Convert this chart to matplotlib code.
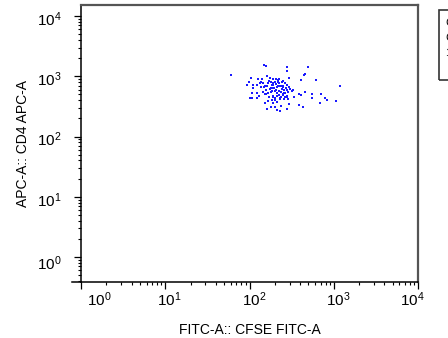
import numpy as np
import matplotlib
matplotlib.use("Agg")
import matplotlib.pyplot as plt
from matplotlib.patches import Rectangle
from matplotlib.lines import Line2D
from matplotlib.transforms import ScaledTranslation
from matplotlib.ticker import FixedLocator, LogLocator, NullFormatter

plt.rcParams["font.family"] = ["Liberation Sans", "DejaVu Sans"]
plt.rcParams["mathtext.fontset"] = "custom"
plt.rcParams["mathtext.rm"] = "Liberation Sans"
plt.rcParams["mathtext.default"] = "regular"

# events (CFSE on x, CD4 on y)
cfse = [60.3, 148.6, 155.6, 276.6, 277, 490.6, 455.8, 439.8, 610.9, 408.4,
        1186, 296.6, 104.2, 92.7, 98.6, 110.9, 121.7, 127.2, 108.0, 101.4,
        108, 123.8, 165.9, 154.1, 188.5, 210.4, 178.5, 160.0, 200.8, 213.8,
        230.2, 238.5, 277, 297, 383.6, 428, 286.4, 337.4, 387, 405,
        456, 547, 547, 700, 687, 794, 824, 1055, 325.6, 160,
        175, 191.8, 206.4, 222, 180, 166, 154, 135.8, 133.3, 149.9,
        192, 206, 178.5, 192, 214, 241, 252, 266, 281, 230,
        202, 222, 238, 257, 181.5, 166, 154, 169, 192, 214,
        248, 281, 297, 317, 281, 230, 201, 185, 238, 266,
        157, 175, 143.5, 130.7, 124, 111, 140.7, 185, 252, 218,
        145, 170, 188, 197, 205, 215, 226, 236, 244, 258,
        270, 183, 176, 162, 212, 224, 248, 266, 290, 305,
        138, 156, 190, 203, 232, 258, 275, 218, 199, 250]
cd4 = [1061, 1537, 1480, 1408, 1236, 1408, 1089, 1037, 857, 857,
       697, 925, 925, 724, 803, 716, 716, 890, 521, 441,
       441, 441, 393, 360, 364, 378, 309, 283, 312.6, 275,
       262, 317, 283, 346, 333, 305, 424, 448, 501, 483,
       542, 501, 431, 501, 364, 431, 403, 388, 591, 1010,
       935, 911, 911, 890, 803, 764, 689, 812, 764, 671,
       764, 743, 646, 631, 656, 812, 844, 764, 716, 689,
       562, 562, 548, 533, 548, 533, 508, 458, 458, 470,
       508, 591, 671, 576, 448, 414, 403, 403, 458, 458,
       591, 607, 554, 470, 533, 631, 890, 707, 671, 803,
       760, 830, 720, 650, 600, 680, 760, 700, 620, 590,
       640, 560, 610, 700, 520, 490, 480, 520, 540, 610,
       660, 500, 470, 430, 440, 420, 470, 860, 790, 700]

decades = [1, 10, 100, 1000, 10000]
exponents = [0, 1, 2, 3, 4]
legend_lines = ["C", "C", "1"]

fig = plt.figure(figsize=(4.48, 3.38), dpi=100)
ax = fig.add_axes([81 / 448, 1 - 282 / 338, 337 / 448, 277 / 338])

ax.scatter(cfse, cd4, s=1.8, marker="s", color="#1a1aff", linewidths=0)

ax.set_xscale("log")
ax.set_yscale("log")
ax.set_xlim(1, 10000)
ax.set_ylim(0.385, 15230)

for a in (ax.xaxis, ax.yaxis):
    a.set_major_locator(FixedLocator(decades))
    a.set_minor_locator(LogLocator(base=10, subs=np.arange(2, 10)))
    a.set_minor_formatter(NullFormatter())

ax.set_xticklabels([f"$10^{{{e}}}$" for e in exponents], fontsize=11)
ax.set_yticklabels([f"$10^{{{e}}}$" for e in exponents], fontsize=11)

ax.tick_params(which="major", length=5, width=0.9, color="black")
ax.tick_params(which="minor", length=2.5, width=0.8, color="black")
ax.tick_params(axis="x", which="major", pad=1)
ax.tick_params(axis="y", which="major", pad=9)

# nudge tick labels the way the cytometry software does
x_shift = [18, 3.5, 4.5, 4.5, -5.5]
for lab, dx in zip(ax.get_xticklabels(), x_shift):
    lab.set_transform(lab.get_transform() + ScaledTranslation(dx / 100, 0, fig.dpi_scale_trans))
y_shift = [-5, -2, -2, -2, -2]
for lab, dy in zip(ax.get_yticklabels(), y_shift):
    lab.set_transform(lab.get_transform() + ScaledTranslation(0, dy / 100, fig.dpi_scale_trans))

for side in ("left", "bottom"):
    ax.spines[side].set_color("black")
    ax.spines[side].set_linewidth(1.1)
for side in ("top", "right"):
    ax.spines[side].set_color("#555555")
    ax.spines[side].set_linewidth(1.6)

# bottom line runs a little past the y axis
ax.add_line(Line2D([-9 / 337, 0], [0, 0], transform=ax.transAxes,
                   color="black", lw=1.1, clip_on=False))

ax.set_xlabel("FITC-A:: CFSE FITC-A", fontsize=10, labelpad=10)
ax.set_ylabel("APC-A:: CD4 APC-A", fontsize=10, labelpad=5)

# legend box cut off at the right edge
fig.patches.append(Rectangle((439 / 448, 1 - 80 / 338), 0.2, 70 / 338, fill=False,
                             ec="#333333", lw=1.2, transform=fig.transFigure))
for i, t in enumerate(legend_lines):
    fig.text(445 / 448, 1 - (23 + 15 * i) / 338, t, fontsize=8, va="center")

fig.savefig("out.png", dpi=100)
